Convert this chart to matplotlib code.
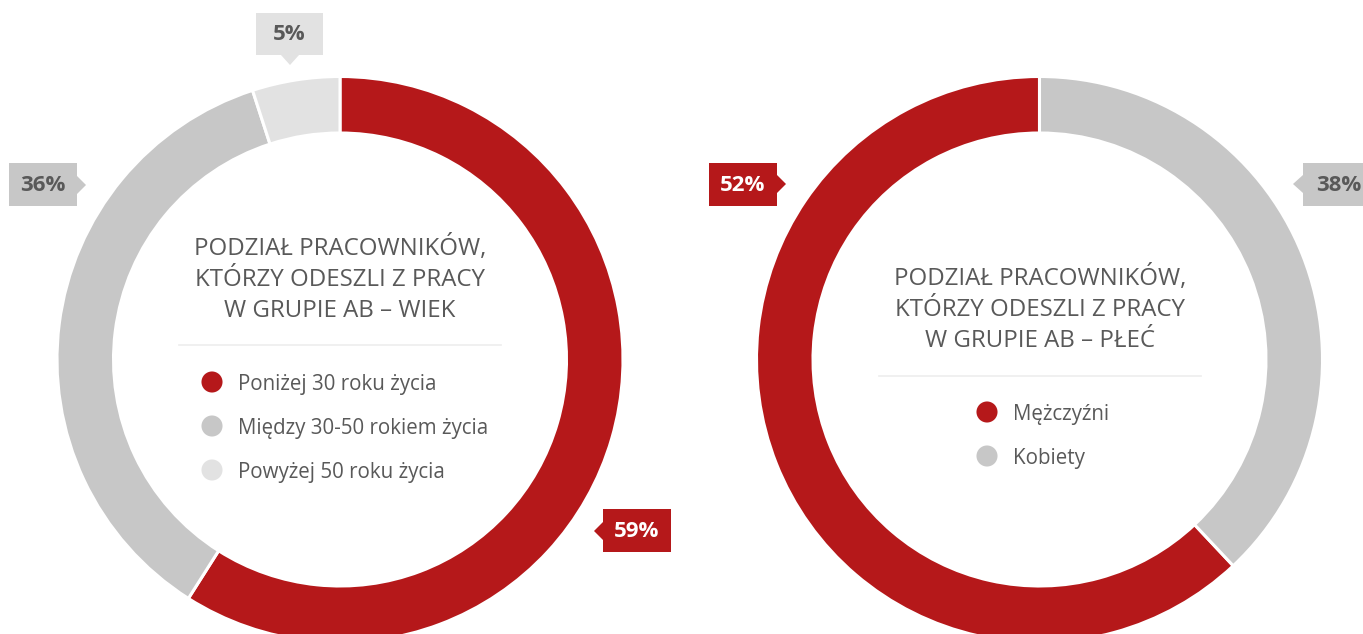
import matplotlib
matplotlib.use("Agg")
import matplotlib.pyplot as plt
from matplotlib.patches import Polygon

# ---- data ----
age_labels = ["Poniżej 30 roku życia", "Między 30-50 rokiem życia", "Powyżej 50 roku życia"]
age_values = [59, 36, 5]
age_texts = ["59%", "36%", "5%"]

sex_labels = ["Mężczyźni", "Kobiety"]
sex_values = [62, 38]          # arc shares as drawn in the reference
sex_texts = ["52%", "38%"]     # label texts as printed in the reference

title_age = ["PODZIAŁ PRACOWNIKÓW,", "KTÓRZY ODESZLI Z PRACY", "W GRUPIE AB – WIEK"]
title_sex = ["PODZIAŁ PRACOWNIKÓW,", "KTÓRZY ODESZLI Z PRACY", "W GRUPIE AB – PŁEĆ"]

RED = "#B5181A"
GRAY = "#C7C7C7"
LIGHT = "#E2E2E2"
TXT = "#595959"
age_colors = [RED, GRAY, LIGHT]
sex_colors = [RED, GRAY]

W, H = 1363, 634
plt.rcParams['font.family'] = ['Open Sans', 'DejaVu Sans']
fig = plt.figure(figsize=(W / 100, H / 100), dpi=100)
ax = fig.add_axes([0, 0, 1, 1])

def Y(py):
    return H - py

R_OUT, R_IN = 283, 226.5
wp = dict(width=R_OUT - R_IN, edgecolor="white", linewidth=2.2)
ax.pie(age_values, colors=age_colors, startangle=90, counterclock=False,
       radius=R_OUT, center=(340, Y(359.5)), wedgeprops=wp)
ax.pie(sex_values, colors=sex_colors, startangle=90, counterclock=True,
       radius=R_OUT, center=(1039.5, Y(359.5)), wedgeprops=wp)

# ---- callout labels ----
def callout(x0, y0, x1, y1, side, tip, fc, text, tc):
    s = 9
    if side == "right":
        cy = tip[1]
        pts = [(x0, y0), (x1, y0), (x1, cy - s), tip, (x1, cy + s), (x1, y1), (x0, y1)]
    elif side == "left":
        cy = tip[1]
        pts = [(x0, y0), (x1, y0), (x1, y1), (x0, y1), (x0, cy + s), tip, (x0, cy - s)]
    else:  # bottom
        cx = tip[0]
        pts = [(x0, y0), (x1, y0), (x1, y1), (cx + s, y1), tip, (cx - s, y1), (x0, y1)]
    ax.add_patch(Polygon([(px, Y(py)) for px, py in pts], closed=True, fc=fc, ec="none"))
    ax.text((x0 + x1) / 2, Y((y0 + y1) / 2 + 1), text, ha="center", va="center",
            fontsize=16, fontweight="bold", color=tc)

callout(603, 509, 671, 552, "left", (594, 531), age_colors[0], age_texts[0], "white")
callout(9, 163, 77, 206, "right", (86, 185), age_colors[1], age_texts[1], TXT)
callout(256, 13, 323, 55, "bottom", (290, 65), age_colors[2], age_texts[2], TXT)
callout(709, 163, 777, 206, "right", (786, 184), sex_colors[0], sex_texts[0], "white")
callout(1303, 163, 1375, 206, "left", (1293, 184), sex_colors[1], sex_texts[1], TXT)

# ---- centre titles and legends ----
def centre_block(cx, title, base0, sep_y, labels, colors, mx, tx, leg_base):
    for i, line in enumerate(title):
        ax.text(cx, Y(base0 + i * 31), line, ha="center", va="baseline",
                fontsize=17.3, color=TXT, fontweight="normal")
    ax.plot([cx - 161, cx + 161], [Y(sep_y), Y(sep_y)], color="#EDEDED", lw=1.2)
    for i, (lab, col) in enumerate(zip(labels, colors)):
        b = leg_base + i * 44
        ax.scatter([mx], [Y(b - 8)], s=230, color=col, edgecolors="none", zorder=3)
        ax.text(tx, Y(b), lab, ha="left", va="baseline", fontsize=14.8, color=TXT)

centre_block(340, title_age, 255, 345, age_labels, age_colors, 212, 238, 390)
centre_block(1040, title_sex, 285, 376, sex_labels, sex_colors, 987, 1013, 420)

ax.set_xlim(0, W)
ax.set_ylim(0, H)
ax.set_aspect("equal")
ax.axis("off")
fig.savefig("out.png", dpi=100)
